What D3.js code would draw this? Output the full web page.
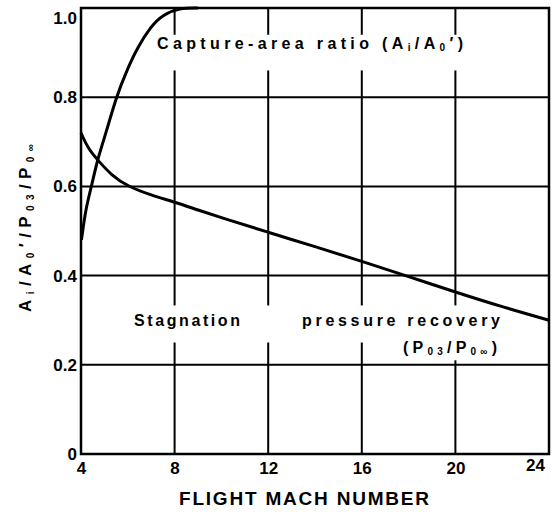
<!DOCTYPE html>
<html lang="en">
<head>
    <meta charset="UTF-8">
    <title>Capture-area ratio and pressure recovery</title>
    <script src="https://d3js.org/d3.v7.min.js"></script>
    <style>
        body {
            margin: 0;
            background: #fff;
        }

        svg {
            font-family: "Liberation Sans", Arial, sans-serif;
            font-weight: bold;
        }

        .tick text {
            font-size: 17px;
            fill: #000;
        }
    </style>
</head>
<body>

<div id="chart"></div>

<script>

    // axis ticks
    var machTicks = [4, 8, 12, 16, 20, 24];
    var ratioTicks = [0, 0.2, 0.4, 0.6, 0.8, 1.0];
    var ratioTickLabels = ["0", "0.2", "0.4", "0.6", "0.8", "1.0"];

    // capture-area ratio curve
    var captureMach = [4.02, 4.2, 4.45, 4.7, 5.1, 5.5, 6.0, 6.4, 7.0, 7.5, 8.2, 9.0];
    var captureRatio = [0.48, 0.55, 0.60, 0.66, 0.725, 0.80, 0.865, 0.91, 0.96, 0.985, 1.0, 1.0];

    // stagnation pressure recovery curve
    var recoveryMach = [4.0, 4.3, 4.7, 5.3, 6.0, 7.0, 8.0, 9.0, 10, 12, 14, 16, 18, 20, 22, 24];
    var recoveryRatio = [0.72, 0.685, 0.66, 0.625, 0.60, 0.58, 0.565, 0.547, 0.53, 0.497, 0.465, 0.432, 0.398, 0.363, 0.33, 0.30];

    var width = 552,
        height = 512;

    var svg = d3.select("#chart").append("svg")
        .attr("width", width)
        .attr("height", height);

    var x = d3.scaleLinear().domain([4, 24]).range([81, 549]);
    var y = d3.scaleLinear().domain([0, 1]).range([454, 8]);

    // grid lines
    var grid = svg.append("g").attr("stroke", "#000").attr("stroke-width", 2);

    grid.selectAll(".hgrid")
        .data(ratioTicks.slice(1, -1))
        .enter().append("line")
        .attr("x1", x(4)).attr("x2", x(24))
        .attr("y1", function(d) { return y(d); })
        .attr("y2", function(d) { return y(d); });

    grid.selectAll(".vgrid")
        .data(machTicks.slice(1, -1))
        .enter().append("line")
        .attr("y1", y(0)).attr("y2", y(1))
        .attr("x1", function(d) { return x(d); })
        .attr("x2", function(d) { return x(d); });

    // gaps in the grid behind the labels
    var gaps = [
        [x(7.6), y(0.94), x(20.2), y(0.86)],
        [x(6.0), y(0.333), x(20.6), y(0.25)],
        [x(17.3), y(0.26), x(20.5), y(0.21)]
    ];
    svg.selectAll(".gap")
        .data(gaps)
        .enter().append("rect")
        .attr("fill", "#fff")
        .attr("x", function(d) { return d[0]; })
        .attr("y", function(d) { return d[1]; })
        .attr("width", function(d) { return d[2] - d[0]; })
        .attr("height", function(d) { return d[3] - d[1]; });

    // frame
    svg.append("rect")
        .attr("x", x(4)).attr("y", y(1))
        .attr("width", x(24) - x(4))
        .attr("height", y(0) - y(1))
        .attr("fill", "none")
        .attr("stroke", "#000")
        .attr("stroke-width", 2.5);

    // curves
    var line = d3.line()
        .x(function(d) { return x(d[0]); })
        .y(function(d) { return y(d[1]); })
        .curve(d3.curveBasis);

    svg.append("path")
        .datum(d3.zip(captureMach, captureRatio))
        .attr("d", line)
        .attr("fill", "none")
        .attr("stroke", "#000")
        .attr("stroke-width", 3);

    svg.append("path")
        .datum(d3.zip(recoveryMach, recoveryRatio))
        .attr("d", line)
        .attr("fill", "none")
        .attr("stroke", "#000")
        .attr("stroke-width", 3);

    // axes (labels only)
    var xAxis = svg.append("g")
        .attr("transform", "translate(0," + y(0) + ")")
        .call(d3.axisBottom(x).tickValues(machTicks).tickSize(0).tickPadding(8)
            .tickFormat(d3.format("d")));
    xAxis.select(".domain").remove();
    // last label sits inside the right edge
    xAxis.selectAll(".tick text").filter(function(d) { return d === 24; })
        .attr("dx", -14).attr("dy", "0.55em");

    var yAxis = svg.append("g")
        .attr("transform", "translate(" + x(4) + ",0)")
        .call(d3.axisLeft(y).tickValues(ratioTicks).tickSize(0).tickPadding(4)
            .tickFormat(function(d, i) { return ratioTickLabels[i]; }));
    yAxis.select(".domain").remove();
    yAxis.selectAll(".tick text").filter(function(d) { return d === 1; })
        .attr("dy", "0.9em");

    // x axis title
    svg.append("text")
        .attr("x", 304)
        .attr("y", 505)
        .attr("text-anchor", "middle")
        .attr("font-size", 19)
        .attr("textLength", 250)
        .attr("lengthAdjust", "spacing")
        .text("FLIGHT MACH NUMBER");

    // y axis title
    var yTitle = svg.append("text")
        .attr("transform", "translate(31,228) rotate(-90)")
        .attr("text-anchor", "middle")
        .attr("font-size", 17)
        .attr("textLength", 168)
        .attr("lengthAdjust", "spacing");
    yTitle.append("tspan").text("A");
    yTitle.append("tspan").attr("font-size", 10).attr("dy", 3).text("i");
    yTitle.append("tspan").attr("dy", -3).text("/A");
    yTitle.append("tspan").attr("font-size", 10).attr("dy", 3).text("0");
    yTitle.append("tspan").attr("dy", -3).text("′/P");
    yTitle.append("tspan").attr("font-size", 10).attr("dy", 3).text("03");
    yTitle.append("tspan").attr("dy", -3).text("/P");
    yTitle.append("tspan").attr("font-size", 10).attr("dy", 3).text("0∞");

    // curve labels
    var capLabel = svg.append("text")
        .attr("x", 157)
        .attr("y", 49)
        .attr("font-size", 16)
        .attr("textLength", 306)
        .attr("lengthAdjust", "spacing");
    capLabel.append("tspan").text("Capture-area  ratio  (A");
    capLabel.append("tspan").attr("font-size", 10).attr("dy", 2).text("i");
    capLabel.append("tspan").attr("dy", -2).text("/A");
    capLabel.append("tspan").attr("font-size", 10).attr("dy", 2).text("0");
    capLabel.append("tspan").attr("dy", -2).text("′)");

    svg.append("text")
        .attr("x", 134)
        .attr("y", 326)
        .attr("font-size", 16)
        .attr("textLength", 106)
        .attr("lengthAdjust", "spacing")
        .text("Stagnation");

    svg.append("text")
        .attr("x", 302)
        .attr("y", 326)
        .attr("font-size", 16)
        .attr("textLength", 198)
        .attr("lengthAdjust", "spacing")
        .text("pressure  recovery");

    var recLabel = svg.append("text")
        .attr("x", 403)
        .attr("y", 353)
        .attr("font-size", 16)
        .attr("textLength", 94)
        .attr("lengthAdjust", "spacing");
    recLabel.append("tspan").text("(P");
    recLabel.append("tspan").attr("font-size", 10).attr("dy", 2).text("03");
    recLabel.append("tspan").attr("dy", -2).text("/P");
    recLabel.append("tspan").attr("font-size", 10).attr("dy", 2).text("0∞");
    recLabel.append("tspan").attr("dy", -2).text(")");

</script>

</body>
</html>
